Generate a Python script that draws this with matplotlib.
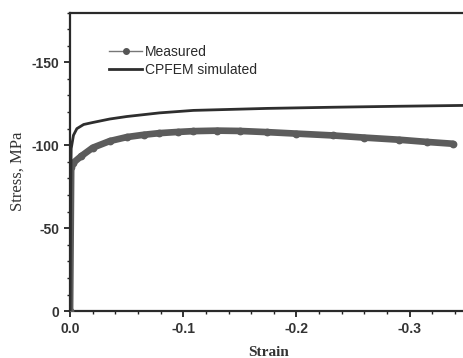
## Stress-strain: measured vs CPFEM simulated
import numpy as np
import matplotlib
matplotlib.use('Agg')
import matplotlib.pyplot as plt
from matplotlib.lines import Line2D
from matplotlib.ticker import MultipleLocator

plt.rcParams['axes.unicode_minus'] = False

# values
meas_strain = [0, -0.001, -0.003, -0.010, -0.020, -0.035, -0.050, -0.065, -0.079,
               -0.095, -0.109, -0.130, -0.150, -0.174, -0.200, -0.232, -0.260,
               -0.291, -0.315, -0.338]
meas_stress = [0, -87, -89.5, -93.5, -98.5, -102.5, -104.9, -106.3, -107.3,
               -108.0, -108.5, -108.8, -108.6, -107.9, -107.0, -105.9, -104.6,
               -103.3, -102.0, -100.9]

sim_strain = [0, -0.0005, -0.001, -0.003, -0.006, -0.012, -0.020, -0.035, -0.050,
              -0.079, -0.109, -0.174, -0.232, -0.291, -0.348]
sim_stress = [0, -70, -98, -106, -110, -112.5, -113.7, -115.8, -117.3,
              -119.5, -121.0, -122.2, -122.9, -123.5, -124.0]

xticks = [0.0, -0.1, -0.2, -0.3]
xticklabels = ['0.0', '-0.1', '-0.2', '-0.3']
yticks = [0, -50, -100, -150]
yticklabels = ['0', '-50', '-100', '-150']

fig = plt.figure(figsize=(4.64, 3.58), dpi=100)
ax = fig.add_axes([0.151, 0.131, 0.849, 0.834])

# measured: dense markers in the original, drawn as a thick marked line
ax.plot(meas_strain, meas_stress, color='#5c5c5c', lw=4.8, marker='o', ms=4.6,
        markerfacecolor='#5c5c5c', markeredgecolor='#5c5c5c',
        solid_capstyle='round', zorder=3)
ax.plot(sim_strain, sim_stress, color='#2e2e2e', lw=2.0, zorder=4)

# both axes run toward negative values
ax.set_xlim(0, -0.348)
ax.set_ylim(0, -180)

ax.set_xticks(xticks)
ax.set_xticklabels(xticklabels)
ax.set_yticks(yticks)
ax.set_yticklabels(yticklabels)
ax.xaxis.set_minor_locator(MultipleLocator(0.02))
ax.yaxis.set_minor_locator(MultipleLocator(10))
ax.tick_params(which='major', direction='out', length=4, width=1.3, colors='#222222')
ax.tick_params(which='minor', direction='out', length=2.5, width=1.0, colors='#222222')
for lab in ax.get_xticklabels() + ax.get_yticklabels():
    lab.set_fontfamily('Liberation Sans')
    lab.set_fontweight('bold')
    lab.set_fontsize(10)
    lab.set_color('#333333')

for s in ['left', 'bottom', 'top']:
    ax.spines[s].set_linewidth(1.6)
    ax.spines[s].set_color('#2a2a2a')
ax.spines['right'].set_visible(False)

ax.set_xlabel('Strain', fontfamily='Liberation Serif', fontweight='bold',
              fontsize=11, color='#333333', va='center')
ax.xaxis.set_label_coords(0.505, -0.137)
ax.set_ylabel('Stress, MPa', fontfamily='Liberation Serif', fontsize=12,
              color='#333333', va='center')
ax.yaxis.set_label_coords(-0.132, 0.469)

handles = [Line2D([], [], color='#777777', lw=1.0, marker='o', ms=4,
                  markerfacecolor='#555555', markeredgecolor='#555555'),
           Line2D([], [], color='#2e2e2e', lw=2.0)]
leg = ax.legend(handles, ['Measured', 'CPFEM simulated'], loc='upper left',
                bbox_to_anchor=(0.078, 0.918), frameon=False, handlelength=2.4,
                handletextpad=0.15, labelspacing=0.25, borderaxespad=0.2,
                prop={'family': 'Liberation Sans', 'size': 10})
for t in leg.get_texts():
    t.set_color('#2a2a2a')

fig.savefig('out.png', dpi=100)
